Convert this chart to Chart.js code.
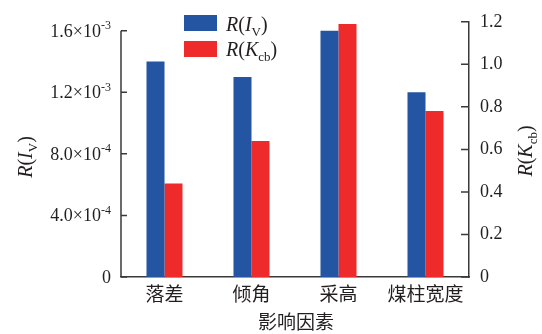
<!DOCTYPE html>
<html>
<head>
<meta charset="utf-8">
<script src="https://cdn.jsdelivr.net/npm/chart.js@4/dist/chart.umd.min.js"></script>
<style>
  html, body { margin: 0; padding: 0; background: #fff; }
  #wrap { width: 542px; height: 334px; position: relative; }
</style>
</head>
<body>
<div id="wrap"><canvas id="c"></canvas></div>
<script>
// Influencing factors
const categories = ['落差', '倾角', '采高', '煤柱宽度'];
// R(I_V), left axis
const rIv = [1.4e-3, 1.3e-3, 1.6e-3, 1.2e-3];
// R(K_cb), right axis
const rKcb = [0.44, 0.64, 1.19, 0.78];
// Tick values
const leftTicks = [0, 4e-4, 8e-4, 1.2e-3, 1.6e-3];
const rightTicks = [0, 0.2, 0.4, 0.6, 0.8, 1.0, 1.2];
const leftAxisMax = 1.658e-3;
const rightAxisMax = 1.2;

const BLUE = '#2455a3';
const RED = '#ee2a2b';
const INK = '#231f20';
const AXIS = '#3a3a3a';
const SERIF = '"Liberation Serif", "Times New Roman", "DejaVu Serif", serif';
const CJK = '"Noto Sans CJK SC", "Noto Sans", sans-serif';

// Draws a run of [text, style] pieces; style: 'i' italic, 'n' normal, 's' subscript, 'p' superscript
function drawRich(ctx, parts, x, y, size, align) {
  const fontFor = (st) => {
    if (st === 'i') return 'italic ' + size + 'px ' + SERIF;
    if (st === 's' || st === 'p') return Math.round(size * 0.66) + 'px ' + SERIF;
    return size + 'px ' + SERIF;
  };
  let total = 0;
  parts.forEach(([t, st]) => { ctx.font = fontFor(st); total += ctx.measureText(t).width; });
  let cx = align === 'right' ? x - total : (align === 'center' ? x - total / 2 : x);
  ctx.textAlign = 'left';
  ctx.textBaseline = 'alphabetic';
  parts.forEach(([t, st]) => {
    ctx.font = fontFor(st);
    let dy = 0;
    if (st === 's') dy = size * 0.25;
    if (st === 'p') dy = -size * 0.42;
    ctx.fillText(t, cx, y + dy);
    cx += ctx.measureText(t).width;
  });
  return total;
}

const decor = {
  id: 'decor',
  afterDraw(chart) {
    const ctx = chart.ctx;
    const ca = chart.chartArea;
    const yL = chart.scales.y;
    const yR = chart.scales.y1;
    ctx.save();
    ctx.fillStyle = INK;
    ctx.strokeStyle = AXIS;
    ctx.lineWidth = 1.5;

    // left axis line and inward ticks
    const topL = yL.getPixelForValue(leftTicks[leftTicks.length - 1]);
    ctx.beginPath();
    ctx.moveTo(ca.left, topL);
    ctx.lineTo(ca.left, ca.bottom);
    leftTicks.forEach(v => {
      const py = yL.getPixelForValue(v);
      ctx.moveTo(ca.left, py);
      ctx.lineTo(ca.left + 6, py);
    });
    // right axis inward ticks
    rightTicks.forEach(v => {
      const py = yR.getPixelForValue(v);
      ctx.moveTo(ca.right, py);
      ctx.lineTo(ca.right - 8, py);
    });
    ctx.stroke();

    // left tick labels in scientific notation
    leftTicks.forEach(v => {
      const py = yL.getPixelForValue(v) + 6;
      if (v === 0) {
        drawRich(ctx, [['0', 'n']], ca.left - 10, py, 18, 'right');
        return;
      }
      const e = Math.floor(Math.log10(v) + 1e-9);
      const m = (v / Math.pow(10, e)).toFixed(1);
      drawRich(ctx, [[m + '×10', 'n'], ['-' + Math.abs(e), 'p']], ca.left - 10, py, 18, 'right');
    });

    // left axis title, rotated
    ctx.save();
    ctx.translate(25, 157);
    ctx.rotate(-Math.PI / 2);
    drawRich(ctx, [['R', 'i'], ['(', 'n'], ['I', 'i'], ['V', 's'], [')', 'n']], 0, 7, 20, 'center');
    ctx.restore();

    // right axis title, rotated
    ctx.save();
    ctx.translate(525, 151);
    ctx.rotate(-Math.PI / 2);
    drawRich(ctx, [['R', 'i'], ['(', 'n'], ['K', 'i'], ['cb', 's'], [')', 'n']], 0, 7, 20, 'center');
    ctx.restore();

    // x axis title
    ctx.font = '19px ' + CJK;
    ctx.textAlign = 'center';
    ctx.textBaseline = 'middle';
    ctx.fillText('影响因素', (ca.left + ca.right) / 2 + 1, 322);

    // legend
    const lx = 184, lw = 33, lh = 16;
    ctx.fillStyle = BLUE;
    ctx.fillRect(lx, 15, lw, lh);
    ctx.fillStyle = RED;
    ctx.fillRect(lx, 41, lw, lh);
    ctx.fillStyle = INK;
    drawRich(ctx, [['R', 'i'], ['(', 'n'], ['I', 'i'], ['V', 's'], [')', 'n']], 226, 31, 20, 'left');
    drawRich(ctx, [['R', 'i'], ['(', 'n'], ['K', 'i'], ['cb', 's'], [')', 'n']], 226, 56, 20, 'left');

    ctx.restore();
  }
};

function build() {
  new Chart(document.getElementById('c'), {
    type: 'bar',
    data: {
      labels: categories,
      datasets: [
        { label: 'R(I_V)', data: rIv, backgroundColor: BLUE, yAxisID: 'y',
          categoryPercentage: 0.414, barPercentage: 1.0 },
        { label: 'R(K_cb)', data: rKcb, backgroundColor: RED, yAxisID: 'y1',
          categoryPercentage: 0.414, barPercentage: 1.0 }
      ]
    },
    options: {
      responsive: true,
      maintainAspectRatio: false,
      animation: false,
      devicePixelRatio: 1,
      layout: { padding: { top: 20, left: 0, right: 0, bottom: 0 } },
      plugins: { legend: { display: false }, tooltip: { enabled: false } },
      scales: {
        x: {
          grid: { display: false, drawTicks: false },
          border: { color: AXIS, width: 1.5 },
          ticks: { font: { family: CJK, size: 19 }, color: INK, padding: 5 },
          afterFit(s) { s.height = 57; }
        },
        y: {
          position: 'left',
          min: 0, max: leftAxisMax,
          grid: { display: false, drawTicks: false },
          border: { display: false },
          ticks: { display: false },
          afterBuildTicks(s) { s.ticks = leftTicks.map(v => ({ value: v })); },
          afterFit(s) { s.width = 121; }
        },
        y1: {
          position: 'right',
          min: 0, max: rightAxisMax,
          grid: { display: false, drawTicks: false },
          border: { color: AXIS, width: 1.5 },
          ticks: {
            font: { family: SERIF, size: 18 }, color: INK, padding: 11,
            callback: v => (v === 0 ? '0' : v.toFixed(1))
          },
          afterBuildTicks(s) { s.ticks = rightTicks.map(v => ({ value: v })); },
          afterFit(s) { s.width = 73; }
        }
      }
    },
    plugins: [decor]
  });
}

Promise.all([
  document.fonts.load('18px "Liberation Serif"'),
  document.fonts.load('italic 20px "Liberation Serif"'),
  document.fonts.load('19px "Noto Sans CJK SC"')
]).catch(() => {}).then(build);
</script>
</body>
</html>
